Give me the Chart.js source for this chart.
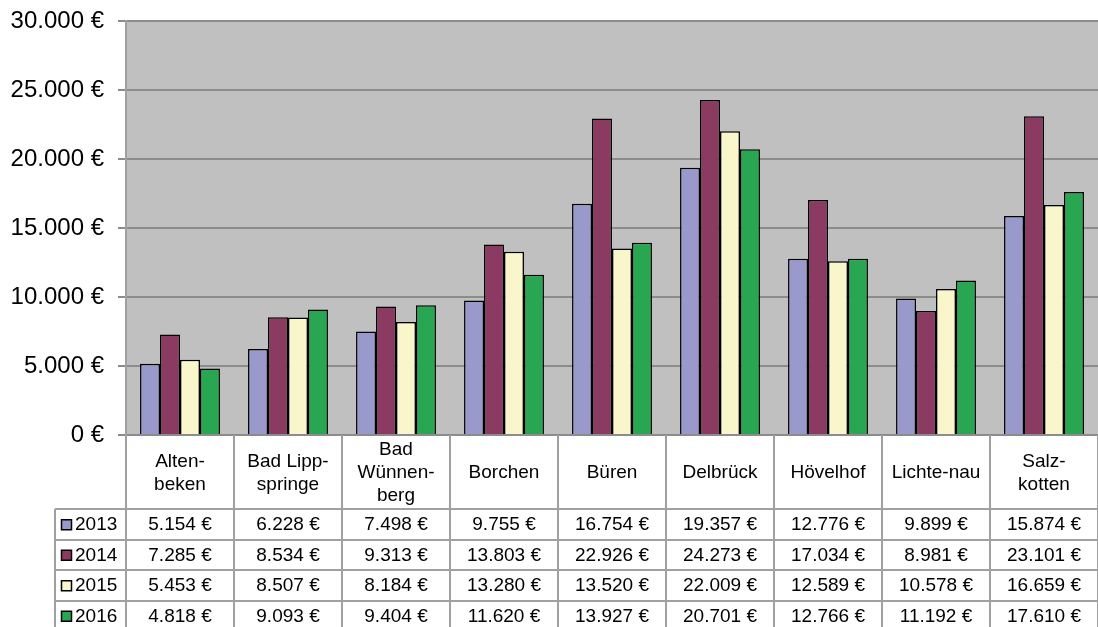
<!DOCTYPE html>
<html>
<head>
<meta charset="utf-8">
<script src="https://cdn.jsdelivr.net/npm/chart.js@4/dist/chart.umd.min.js"></script>
<style>
  body { margin: 0; background: #fff; }
</style>
</head>
<body>
<canvas id="chart" width="1098" height="627"></canvas>
<script>
// categories (line breaks as in the original table)
let places = [['Alten-', 'beken'], ['Bad Lipp-', 'springe'], ['Bad', 'Wünnen-', 'berg'], ['Borchen'], ['Büren'],
    ['Delbrück'], ['Hövelhof'], ['Lichte-nau'], ['Salz-', 'kotten']]
let years = ['2013', '2014', '2015', '2016']
let values2013 = [5154, 6228, 7498, 9755, 16754, 19357, 12776, 9899, 15874]
let values2014 = [7285, 8534, 9313, 13803, 22926, 24273, 17034, 8981, 23101]
let values2015 = [5453, 8507, 8184, 13280, 13520, 22009, 12589, 10578, 16659]
let values2016 = [4818, 9093, 9404, 11620, 13927, 20701, 12766, 11192, 17610]
let yTicks = [0, 5000, 10000, 15000, 20000, 25000, 30000]

let colors = ['#9999cc', '#8b3a62', '#faf6cc', '#29a651']
let series = [values2013, values2014, values2015, values2016]

function euro(n) {
    return String(n).replace(/\B(?=(\d{3})+(?!\d))/g, '.') + ' €'
}

let font = '"Liberation Sans", Arial, sans-serif'
let lineColor = '#a0a0a0'

// grey plot background
let plotBackground = {
    id: 'plotBackground',
    beforeDraw(chart) {
        let a = chart.chartArea
        let ctx = chart.ctx
        ctx.save()
        ctx.fillStyle = '#c0c0c0'
        ctx.fillRect(a.left, a.top, a.right - a.left, a.bottom - a.top)
        ctx.restore()
    }
}

// excel-like data table under the plot
let dataTable = {
    id: 'dataTable',
    afterDraw(chart) {
        let ctx = chart.ctx
        let a = chart.chartArea
        let xs = chart.scales.x
        let colW = (a.right - a.left) / places.length
        let headH = 74
        let rowH = 30.5
        let keyLeft = 55
        let top = a.bottom
        let rowsTop = top + headH
        let bottom = chart.height

        ctx.save()
        ctx.strokeStyle = lineColor
        ctx.lineWidth = 2

        // vertical lines
        for (let i = 0; i <= places.length; i++) {
            let x = Math.round(a.left + i * colW)
            ctx.beginPath()
            ctx.moveTo(x, top)
            ctx.lineTo(x, bottom)
            ctx.stroke()
        }
        ctx.beginPath()
        ctx.moveTo(keyLeft, rowsTop)
        ctx.lineTo(keyLeft, bottom)
        ctx.stroke()

        // horizontal lines
        for (let r = 0; r < years.length; r++) {
            let y = Math.round(rowsTop + r * rowH)
            ctx.beginPath()
            ctx.moveTo(keyLeft, y)
            ctx.lineTo(a.right, y)
            ctx.stroke()
        }

        ctx.fillStyle = '#000'
        ctx.font = '19px ' + font
        ctx.textAlign = 'center'
        ctx.textBaseline = 'middle'

        // category headers
        places.forEach(function(lines, i) {
            let cx = xs.getPixelForValue(i)
            let lh = 23
            let y0 = top + headH / 2 - (lines.length - 1) * lh / 2 + 1
            lines.forEach(function(t, k) {
                ctx.fillText(t, cx, y0 + k * lh)
            })
        })

        // rows
        years.forEach(function(year, r) {
            let cy = rowsTop + r * rowH + rowH / 2 + 1
            ctx.fillStyle = colors[r]
            ctx.fillRect(61.5, cy - 5.5, 10, 10)
            ctx.strokeStyle = '#000'
            ctx.lineWidth = 1.5
            ctx.strokeRect(61.5, cy - 5.5, 10, 10)
            ctx.fillStyle = '#000'
            ctx.textAlign = 'left'
            ctx.fillText(year, 75, cy)
            ctx.textAlign = 'center'
            series[r].forEach(function(v, i) {
                ctx.fillText(euro(v), xs.getPixelForValue(i), cy)
            })
        })
        ctx.restore()
    }
}

let ctx = document.querySelector('#chart').getContext('2d')

let chart = new Chart(ctx, {
    type: 'bar',
    data: {
        labels: places.map(p => p.join('')),
        datasets: years.map(function(year, i) {
            return {
                label: year,
                data: series[i],
                backgroundColor: colors[i],
                borderColor: '#000',
                borderWidth: 1.5,
                categoryPercentage: 0.74,
                barPercentage: 1
            }
        })
    },
    options: {
        responsive: false,
        animation: false,
        layout: { padding: { top: 21, bottom: 192, left: 0, right: 0 } },
        plugins: { legend: { display: false }, tooltip: { enabled: false } },
        scales: {
            x: { display: false },
            y: {
                min: 0,
                max: 30000,
                afterBuildTicks(scale) {
                    scale.ticks = yTicks.map(v => ({ value: v }))
                },
                afterFit(scale) {
                    scale.width = 126
                    scale.paddingTop = 0
                    scale.paddingBottom = 0
                },
                ticks: {
                    callback: v => euro(v),
                    color: '#000',
                    font: { family: font, size: 24 },
                    padding: 14
                },
                grid: { color: '#8c8c8c', lineWidth: 2, tickLength: 8 },
                border: { color: lineColor, width: 2 }
            }
        }
    },
    plugins: [plotBackground, dataTable]
})
</script>
</body>
</html>
